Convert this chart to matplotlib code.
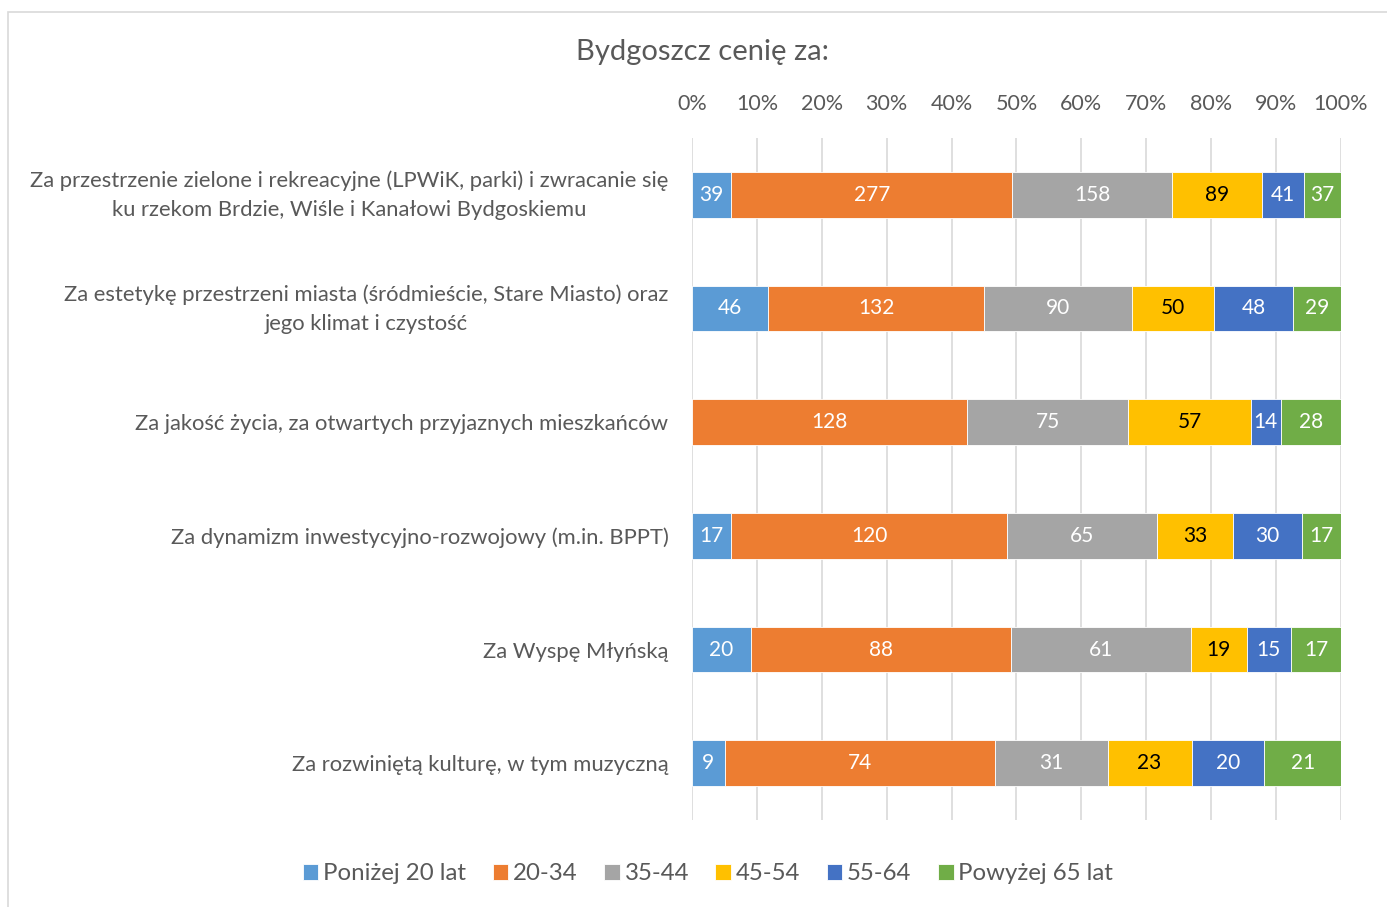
import numpy as np
import matplotlib.pyplot as plt
from matplotlib.patches import Rectangle
from matplotlib.transforms import ScaledTranslation

# dane
kategorie = [
    "Za przestrzenie zielone i rekreacyjne (LPWiK, parki) i zwracanie się\nku rzekom Brdzie, Wiśle i Kanałowi Bydgoskiemu",
    "Za estetykę przestrzeni miasta (śródmieście, Stare Miasto) oraz\njego klimat i czystość",
    "Za jakość życia, za otwartych przyjaznych mieszkańców",
    "Za dynamizm inwestycyjno-rozwojowy (m.in. BPPT)",
    "Za Wyspę Młyńską",
    "Za rozwiniętą kulturę, w tym muzyczną",
]
grupy = ["Poniżej 20 lat", "20-34", "35-44", "45-54", "55-64", "Powyżej 65 lat"]
ponizej_20 = [39, 46, 0, 17, 20, 9]
w_20_34 = [277, 132, 128, 120, 88, 74]
w_35_44 = [158, 90, 75, 65, 61, 31]
w_45_54 = [89, 50, 57, 33, 19, 23]
w_55_64 = [41, 48, 14, 30, 15, 20]
powyzej_65 = [37, 29, 28, 17, 17, 21]
ticki = ["0%", "10%", "20%", "30%", "40%", "50%", "60%", "70%", "80%", "90%", "100%"]

kolory = ["#5B9BD5", "#ED7D31", "#A5A5A5", "#FFC000", "#4472C4", "#70AD47"]
kolory_tekstu = ["white", "white", "white", "black", "white", "white"]

plt.rcParams['font.family'] = ['Lato', 'DejaVu Sans']

dane = np.array([ponizej_20, w_20_34, w_35_44, w_45_54, w_55_64, powyzej_65], dtype=float)
proc = dane / dane.sum(axis=0) * 100

fig = plt.figure(figsize=(13.87, 9.07), dpi=100)
fig.patches.append(Rectangle((8 / 1387, -0.1), 1.2, 1 - 12 / 907 + 0.1, transform=fig.transFigure,
                             fill=False, edgecolor="#d9d9d9", linewidth=1.2))
ax = fig.add_axes([692 / 1387, 1 - 820 / 907, 649 / 1387, 682 / 907])

y = np.arange(len(kategorie))
lewo = np.zeros(len(kategorie))
for i, g in enumerate(grupy):
    ax.barh(y, proc[i], left=lewo, height=0.4, color=kolory[i], label=g,
            edgecolor="white", linewidth=0.6, zorder=3)
    for j in range(len(kategorie)):
        if dane[i, j] > 0:
            ax.text(lewo[j] + proc[i, j] / 2, y[j], str(int(dane[i, j])), ha="center", va="center",
                    color=kolory_tekstu[i], fontsize=15, zorder=4)
    lewo += proc[i]

ax.set_xlim(0, 100)
ax.set_ylim(len(kategorie) - 0.5, -0.5)
ax.set_xticks(np.arange(0, 101, 10))
ax.set_xticklabels(ticki)
ax.xaxis.tick_top()
ax.tick_params(axis="x", length=0, pad=17, labelsize=15.5, labelcolor="#595959")
ax.set_yticks(y)
ax.set_yticklabels(kategorie, multialignment="center", linespacing=1.55)
ax.tick_params(axis="y", length=0, pad=17, labelsize=15.8, labelcolor="#595959")
# dwulinijkowe etykiety lekko w górę
for lbl in ax.get_yticklabels():
    if "\n" in lbl.get_text():
        lbl.set_transform(lbl.get_transform() + ScaledTranslation(0, 0.06, fig.dpi_scale_trans))
ax.grid(axis="x", color="#d9d9d9", linewidth=1.2, zorder=0)
for s in ax.spines.values():
    s.set_visible(False)

fig.text(703 / 1387, 1 - 52 / 907, "Bydgoszcz cenię za:", ha="center", va="center",
         fontsize=21, color="#595959")

ax.legend(loc="center", bbox_to_anchor=(708 / 1387, 1 - 874 / 907), bbox_transform=fig.transFigure,
          ncol=6, frameon=False, fontsize=17.3, labelcolor="#595959", handlelength=0.65, handleheight=0.65,
          handletextpad=0.2, columnspacing=1.1)

fig.savefig("out.png", dpi=100)
